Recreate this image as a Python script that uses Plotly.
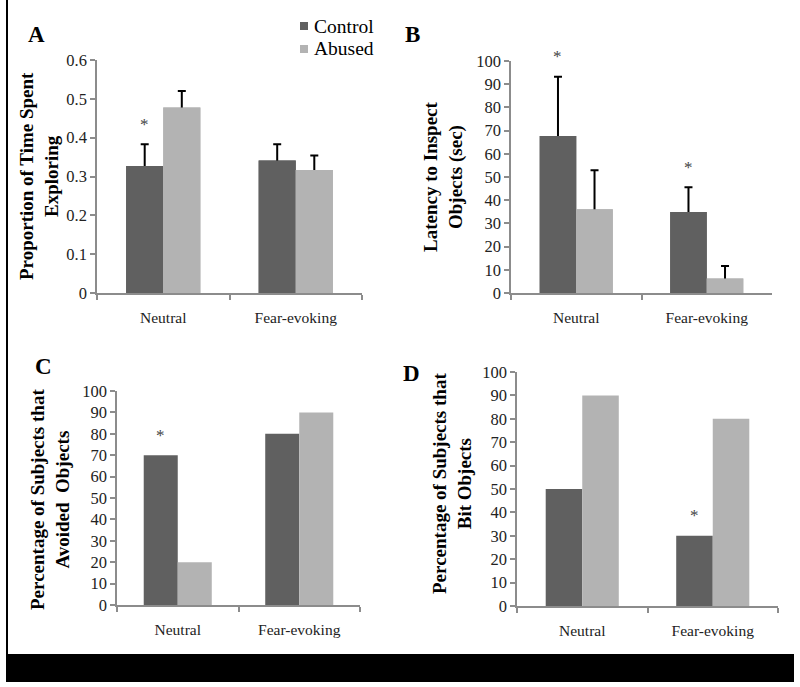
import plotly.graph_objects as go

# Data
categories = ["Neutral", "Fear-evoking"]
groups = ["Control", "Abused"]

# A: proportion of time spent exploring (mean, +SEM)
a_control = [0.327, 0.341]
a_control_err = [0.056, 0.042]
a_abused = [0.478, 0.317]
a_abused_err = [0.042, 0.037]

# B: latency to inspect objects (sec)
b_control = [67.7, 34.9]
b_control_err = [25.5, 10.7]
b_abused = [36.1, 6.3]
b_abused_err = [16.8, 5.3]

# C: percentage of subjects that avoided objects
c_control = [70, 80]
c_abused = [20, 90]

# D: percentage of subjects that bit objects
d_control = [50, 30]
d_abused = [90, 80]

# which control bars carry a significance star
a_star = [True, False]
b_star = [True, True]
c_star = [True, False]
d_star = [False, True]

COL_CTRL = "#606060"
COL_ABUS = "#b3b3b3"
FONT = "Liberation Serif, Times New Roman, Times, serif"
W, H = 800, 687


def px(x):
    return x / W


def py(y):
    return 1 - y / H


def err(arr):
    # symmetric bars; the lower half is hidden under a second copy of the bar
    return dict(type="data", array=arr, color="black", thickness=2, width=4)


fig = go.Figure()

panels = [
    ("x", "y", a_control, a_abused, a_control_err, a_abused_err, a_star),
    ("x2", "y2", b_control, b_abused, b_control_err, b_abused_err, b_star),
    ("x3", "y3", c_control, c_abused, None, None, c_star),
    ("x4", "y4", d_control, d_abused, None, None, d_star),
]

annotations = []
for xa, ya, ctrl, abus, ctrl_e, abus_e, stars in panels:
    for vals, errs, name, col in [(ctrl, ctrl_e, "Control", COL_CTRL), (abus, abus_e, "Abused", COL_ABUS)]:
        if errs:
            fig.add_trace(go.Bar(x=categories, y=vals, name=name, marker_color=col,
                                 marker_line_width=0, xaxis=xa, yaxis=ya, offsetgroup=name,
                                 error_y=err(errs)))
        fig.add_trace(go.Bar(x=categories, y=vals, name=name, marker_color=col,
                             marker_line_width=0, xaxis=xa, yaxis=ya, offsetgroup=name))
    for i, s in enumerate(stars):
        if s:
            top = ctrl[i] + (ctrl_e[i] if ctrl_e else 0)
            annotations.append(dict(x=i - 0.14, y=top, xref=xa, yref=ya, text="*",
                                    showarrow=False, xanchor="center", yanchor="middle", yshift=20,
                                    font=dict(family=FONT, size=17, color="#444")))

axis_line = dict(showline=True, linecolor="#8c8c8c", linewidth=1.5, ticks="outside",
                 tickcolor="#8c8c8c", tickwidth=1.5, ticklen=5, showgrid=False,
                 zeroline=False, automargin=False,
                 tickfont=dict(family=FONT, size=16.5, color="#222"))


def xax(x0, x1, anchor):
    return dict(axis_line, domain=[px(x0), px(x1)], anchor=anchor, type="category",
                tickson="boundaries", range=[-0.5, 1.5], ticklabelstandoff=10,
                tickfont=dict(family=FONT, size=15.5, color="#222"))


def yax(y0, y1, rng, dtick, anchor):
    return dict(axis_line, domain=[py(y0), py(y1)], anchor=anchor, range=rng, dtick=dtick)


# panel letters
for letter, x, y in [("A", 36, 35), ("B", 412, 35), ("C", 43, 367), ("D", 411, 373)]:
    annotations.append(dict(x=px(x), y=py(y), xref="paper", yref="paper", text="<b>" + letter + "</b>",
                            xanchor="center", yanchor="middle", showarrow=False,
                            font=dict(family=FONT, size=23, color="black")))

# y axis titles
titles = [
    ("Proportion of Time Spent<br>Exploring", 39, 176),
    ("Latency to Inspect<br>Objects (sec)", 443, 177),
    ("Percentage of Subjects that<br>Avoided  Objects", 50, 500),
    ("Percentage of Subjects that<br>Bit Objects", 452, 483),
]
for t, x, y in titles:
    annotations.append(dict(x=px(x), y=py(y), xref="paper", yref="paper", text="<b>" + t + "</b>",
                            textangle=-90, xanchor="center", yanchor="middle", showarrow=False,
                            font=dict(family=FONT, size=19, color="black")))

# legend
for name, col, y in [("Control", COL_CTRL, 26), ("Abused", COL_ABUS, 49)]:
    annotations.append(dict(x=px(312), y=py(y), xref="paper", yref="paper", text=name,
                            xanchor="left", yanchor="middle", showarrow=False,
                            font=dict(family=FONT, size=19.5, color="black")))

shapes = [
    dict(type="rect", xref="paper", yref="paper", x0=px(300), x1=px(308), y0=py(22), y1=py(30),
         fillcolor=COL_CTRL, line_width=0),
    dict(type="rect", xref="paper", yref="paper", x0=px(300), x1=px(308), y0=py(45), y1=py(53),
         fillcolor=COL_ABUS, line_width=0),
    # frame: left rule and bottom band
    dict(type="rect", xref="paper", yref="paper", x0=px(6), x1=px(8), y0=py(0), y1=py(655),
         fillcolor="black", line_width=0),
    dict(type="rect", xref="paper", yref="paper", x0=px(6), x1=px(794), y0=py(654), y1=py(682),
         fillcolor="black", line_width=0),
]

fig.update_layout(
    width=W, height=H,
    margin=dict(l=0, r=0, t=0, b=0, pad=0),
    paper_bgcolor="white", plot_bgcolor="white",
    barmode="group", bargap=0.44, bargroupgap=0,
    showlegend=False,
    font=dict(family=FONT),
    xaxis=xax(97, 362, "y"),
    yaxis=yax(293, 60, [0, 0.6], 0.1, "x"),
    xaxis2=xax(511, 772, "y2"),
    yaxis2=yax(293, 61, [0, 100], 10, "x2"),
    xaxis3=xax(117, 360, "y3"),
    yaxis3=yax(605, 391, [0, 100], 10, "x3"),
    xaxis4=xax(517, 778, "y4"),
    yaxis4=yax(606, 372, [0, 100], 10, "x4"),
    annotations=annotations,
    shapes=shapes,
)

# drop the page's default body margin so the figure sits at the window origin
fig.write_html("out.html", config={"displayModeBar": False},
               post_script="document.body.style.margin='0';")
